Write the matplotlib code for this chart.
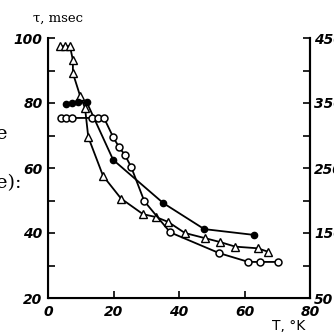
import numpy as np
import matplotlib
matplotlib.use("Agg")
import matplotlib.pyplot as plt

# open triangles
tri_T = [3.7, 5.2, 6.7, 7.6, 7.6, 9.8, 11.3, 12.3, 16.8, 22.3, 29.0, 33.0, 36.7, 41.8, 48.0, 52.6, 57.2, 64.0, 67.3]
tri_tau = [97.5, 97.5, 97.5, 93.2, 89.2, 82.2, 78.5, 69.5, 57.6, 50.6, 45.8, 44.9, 43.4, 40.0, 38.4, 37.2, 35.8, 35.3, 34.2]

# filled circles
dot_T = [5.5, 7.3, 9.2, 11.8, 19.9, 35.2, 47.7, 63.0]
dot_tau = [79.8, 80.0, 80.2, 80.3, 62.5, 49.2, 41.2, 39.4]

# open circles
circ_T = [4.0, 5.5, 7.2, 13.5, 15.3, 17.1, 19.9, 21.7, 23.5, 25.4, 29.4, 37.3, 52.3, 61.2, 64.8, 70.2]
circ_tau = [75.4, 75.4, 75.4, 75.4, 75.4, 75.4, 69.5, 66.4, 64.0, 60.3, 49.8, 40.2, 33.8, 31.1, 31.1, 31.1]

left_ticks = [20, 40, 60, 80, 100]
left_labels = ["20", "40", "60", "80", "100"]
right_ticks = [50, 150, 250, 350, 450]
bottom_ticks = [0, 20, 40, 60, 80]

fig = plt.figure(figsize=(3.34, 3.35), dpi=100)
ax = fig.add_axes([48/334, 1-298/335, (310-48)/334, (298-38)/335])

lw = 1.3
ax.plot(tri_T, tri_tau, color="black", lw=lw, marker="^", ms=5.5, mfc="white", mec="black", mew=1.0)
ax.plot(dot_T, dot_tau, color="black", lw=lw, marker="o", ms=4.5, mfc="black", mec="black")
ax.plot(circ_T, circ_tau, color="black", lw=lw, marker="o", ms=5, mfc="white", mec="black", mew=1.1)

ax.set_xlim(0, 80)
ax.set_ylim(20, 100)
ax.spines["top"].set_visible(False)
for s in ["left", "bottom", "right"]:
    ax.spines[s].set_linewidth(1.5)

tickfont = dict(fontsize=10, fontstyle="italic", fontweight="bold", family="DejaVu Sans")
ax.set_yticks(left_ticks)
ax.set_yticklabels(left_labels, **tickfont)
ax.set_yticks([30, 50, 70, 90], minor=True)
ax.set_xticks(bottom_ticks)
ax.set_xticklabels([str(t) for t in bottom_ticks], **tickfont)
ax.tick_params(axis="y", which="both", direction="in", length=5, width=1.2, pad=4)
ax.tick_params(axis="x", which="both", direction="in", length=5, width=1.2, pad=5)

ax2 = ax.twinx()
ax2.set_ylim(50, 450)
ax2.spines["top"].set_visible(False)
ax2.spines["right"].set_linewidth(1.5)
ax2.set_yticks(right_ticks)
ax2.set_yticklabels([str(t) for t in right_ticks], **tickfont)
ax2.set_yticks([100, 200, 300, 400], minor=True)
ax2.tick_params(axis="y", which="both", direction="in", length=5, width=1.2, pad=3)

fig.text(33/334, 1-18/335, "τ, msec", fontsize=9.5, family="DejaVu Serif", va="center", ha="left")
fig.text(272/334, 1-326/335, "T, °K", fontsize=10, family="DejaVu Sans", va="center", ha="left")
fig.text(-4/334, 1-134/335, "e", fontsize=14, family="DejaVu Serif", va="center", ha="left")
fig.text(-4/334, 1-183/335, "e):", fontsize=14, family="DejaVu Serif", va="center", ha="left")

fig.savefig("out.png", dpi=100)
